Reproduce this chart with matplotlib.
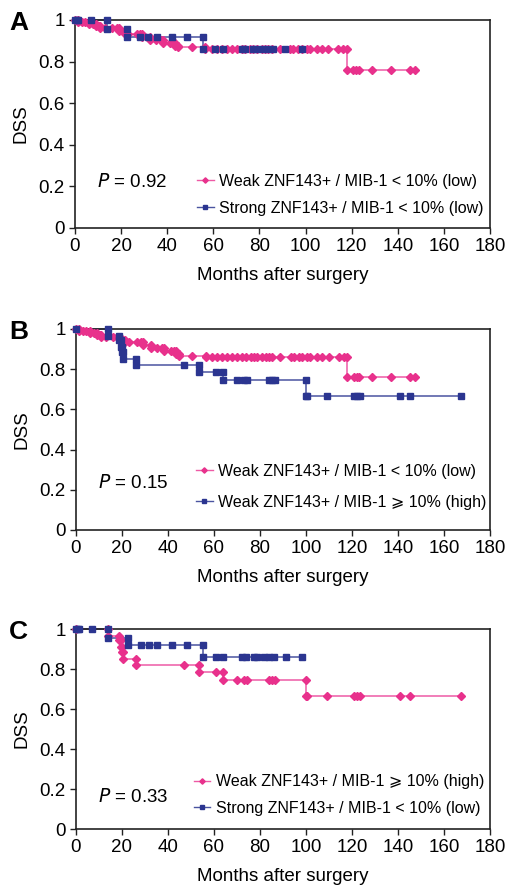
import matplotlib
matplotlib.use("Agg")
import matplotlib.pyplot as plt
from matplotlib.lines import Line2D

plt.rcParams['font.family'] = ['Liberation Sans', 'DejaVu Sans']

# ---- data (months, DSS) ----
# Weak ZNF143+ / MIB-1 < 10% (low)
weak_low_t = [0, 1.5, 1.5, 3, 4.5, 6, 6, 8, 9, 9, 10.5, 11, 11, 13, 16, 18, 19, 19,
              21.5, 21.5, 23, 26.7, 28.2, 29, 29, 32.5, 32.5, 35, 37.5, 38.3, 38.3,
              41.2, 42.6, 43.4, 43.4, 44.8, 44.8, 50.6, 56.4, 56.4, 59.3, 61.4, 63.6,
              65.8, 68, 70.1, 72.3, 73.7, 75.9, 77.3, 78.8, 81, 82.4, 83.9, 85.3, 88.9,
              93.3, 94.7, 96.9, 98.3, 100.5, 101.9, 104.8, 107, 109.9, 114.2, 116.4,
              117.8, 117.8, 120.7, 122, 123, 128.7, 137, 145.3, 147.5]
weak_low_s = [1.0, 1.0, 0.99, 0.99, 0.99, 0.99, 0.98, 0.98, 0.98, 0.97, 0.97, 0.97, 0.96,
              0.96, 0.96, 0.96, 0.96, 0.945, 0.945, 0.935, 0.935, 0.935, 0.935, 0.935,
              0.918, 0.918, 0.905, 0.905, 0.905, 0.905, 0.89, 0.89, 0.89, 0.89, 0.875,
              0.875, 0.868, 0.868, 0.868, 0.86, 0.86, 0.86, 0.86, 0.86, 0.86, 0.86, 0.86,
              0.86, 0.86, 0.86, 0.86, 0.86, 0.86, 0.86, 0.86, 0.86, 0.86, 0.86, 0.86,
              0.86, 0.86, 0.86, 0.86, 0.86, 0.86, 0.86, 0.86, 0.86, 0.762, 0.762, 0.762,
              0.762, 0.762, 0.762, 0.762, 0.762]

# Strong ZNF143+ / MIB-1 < 10% (low)
strong_low_t = [0, 0.7, 1.4, 6.9, 13.7, 13.7, 22.4, 22.4, 28.2, 31.8, 35.4, 41.9, 48.4,
                55.4, 55.4, 60.7, 64, 72.3, 73.7, 77.3, 78.8, 81.7, 83.9, 86, 91.1, 98.3]
strong_low_s = [1.0, 1.0, 1.0, 1.0, 1.0, 0.957, 0.957, 0.92, 0.92, 0.92, 0.92, 0.92, 0.92,
                0.92, 0.862, 0.862, 0.862, 0.862, 0.862, 0.862, 0.862, 0.862, 0.862,
                0.862, 0.862, 0.862]

# Weak ZNF143+ / MIB-1 >= 10% (high)
weak_high_t = [0, 14, 14, 18.5, 18.5, 19.5, 19.5, 20, 20, 20.3, 20.3, 26, 26, 47, 53.5,
               53.5, 60.7, 64, 64, 70.1, 73, 74.5, 83.9, 85.3, 86.7, 99.8, 99.8, 100.5,
               109.2, 120.7, 122.2, 123.3, 140.7, 145.3, 167.4]
weak_high_s = [1.0, 1.0, 0.967, 0.967, 0.943, 0.943, 0.91, 0.91, 0.885, 0.885, 0.85, 0.85,
               0.82, 0.82, 0.82, 0.785, 0.785, 0.785, 0.745, 0.745, 0.745, 0.745, 0.745,
               0.745, 0.745, 0.745, 0.665, 0.665, 0.665, 0.665, 0.665, 0.665, 0.665,
               0.665, 0.665]

lab_weak_low = "Weak ZNF143+ / MIB-1 < 10% (low)"
lab_strong_low = "Strong ZNF143+ / MIB-1 < 10% (low)"
lab_weak_high = "Weak ZNF143+ / MIB-1 \u2A7E 10% (high)"

panels = [
    ("A", "0.92", [(weak_low_t, weak_low_s, 'pink', lab_weak_low),
                   (strong_low_t, strong_low_s, 'blue', lab_strong_low)]),
    ("B", "0.15", [(weak_low_t, weak_low_s, 'pink', lab_weak_low),
                   (weak_high_t, weak_high_s, 'blue', lab_weak_high)]),
    ("C", "0.33", [(weak_high_t, weak_high_s, 'pink', lab_weak_high),
                   (strong_low_t, strong_low_s, 'blue', lab_strong_low)]),
]

x_ticks = [0, 20, 40, 60, 80, 100, 120, 140, 160, 180]
y_ticks = [0, 0.2, 0.4, 0.6, 0.8, 1.0]
y_ticklabels = ["0", "0.2", "0.4", "0.6", "0.8", "1"]

PINK = "#E8318C"
PINK_LINE = "#EE5AA5"
BLUE = "#2B3590"
BLUE_LINE = "#4A54A0"

styles = {
    'pink': dict(color=PINK_LINE, marker='D', markersize=4.2, mfc=PINK, mec=PINK),
    'blue': dict(color=BLUE_LINE, marker='s', markersize=4.8, mfc=BLUE, mec=BLUE),
}

W, H = 506, 886
fig = plt.figure(figsize=(W / 100, H / 100), dpi=100)

# axes boxes in pixels: (left, top, right, bottom)
boxes = [(75, 20, 490, 228), (76, 329, 490, 530), (76, 629, 490, 829)]
p_y = [0.22, 0.235, 0.16]
leg_center = [0.16, 0.215, 0.17]
leg_x = [0.294, 0.29, 0.284]
leg_spacing = [0.75, 1.0, 0.7]

for i, (letter, pval, curves) in enumerate(panels):
    l, t, r, b = boxes[i]
    ax = fig.add_axes([l / W, 1 - b / H, (r - l) / W, (b - t) / H])
    handles = []
    for tt, ss, key, lab in curves:
        st = styles[key]
        ax.plot(tt, ss, drawstyle='steps-post', color=st['color'], lw=1.1,
                zorder=2, clip_on=False)
        ax.plot(tt, ss, linestyle='none', marker=st['marker'], markersize=st['markersize'],
                mfc=st['mfc'], mec=st['mec'], zorder=3, clip_on=False)
        handles.append(Line2D([], [], color=st['color'], lw=1.0, marker=st['marker'],
                              markersize=st['markersize'] * 0.65, mfc=st['mfc'],
                              mec=st['mec'], label=lab))
    ax.set_xlim(0, 180)
    ax.set_ylim(0, 1)
    ax.set_xticks(x_ticks)
    ax.set_xticklabels([str(v) for v in x_ticks])
    ax.set_yticks(y_ticks)
    ax.set_yticklabels(y_ticklabels)
    ax.tick_params(direction='out', length=4, width=1, labelsize=13.5, pad=3.5, color='#222222')
    for sp in ax.spines.values():
        sp.set_linewidth(1.2)
        sp.set_color('#222222')
    ax.set_xlabel("Months after surgery", fontsize=13.5, labelpad=8)
    ax.set_ylabel("DSS", fontsize=13.5, labelpad=6)
    ax.text(0.053, p_y[i], r"$\it{P}$" + " = " + pval, transform=ax.transAxes,
            fontsize=13.5, va='center', ha='left')
    ax.legend(handles=handles, loc='center left',
              bbox_to_anchor=(leg_x[i], leg_center[i]), frameon=False,
              fontsize=11.5, borderpad=0, borderaxespad=0, handlelength=1.05,
              handletextpad=0.35, labelspacing=leg_spacing[i])
    fig.text(9 / W, 1 - (t + 3) / H, letter, fontsize=19, fontweight='bold',
             ha='left', va='center')

fig.savefig("out.png", dpi=100)
